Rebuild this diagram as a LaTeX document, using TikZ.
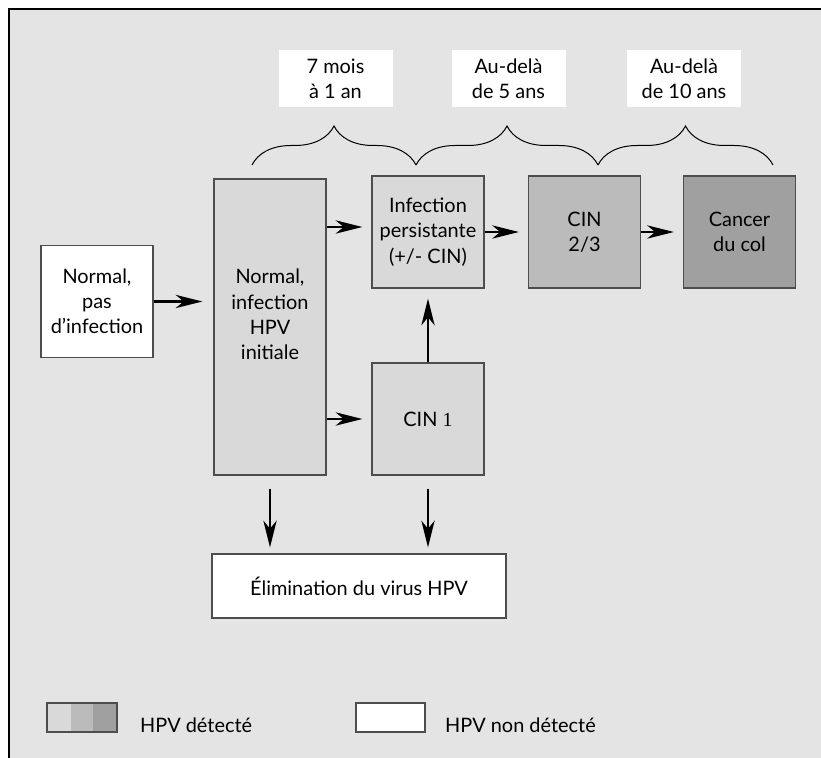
\documentclass[tikz,border=0pt]{standalone}
\usepackage{fontspec}
\setmainfont{Lato}
\newfontfamily\serifnum{Liberation Serif}
\usepackage{tikz}
\usetikzlibrary{positioning, arrows.meta}
\usetikzlibrary{decorations.pathreplacing}
\definecolor{paper}{HTML}{E4E4E4}
\definecolor{hpvlight}{HTML}{D9D9D9}
\definecolor{hpvmid}{HTML}{BBBBBB}
\definecolor{hpvdark}{HTML}{A0A0A0}
\definecolor{edge}{HTML}{4D4D4D}

\begin{document}
\begin{tikzpicture}[x=0.3mm, y=-0.3mm, on grid,
    every node/.style={font=\fontsize{17}{21.5}\selectfont},
    stage/.style={draw=edge, line width=0.4mm, minimum width=33.6mm, minimum height=33.6mm, inner sep=0pt, align=center},
    period/.style={fill=white, minimum width=34.2mm, minimum height=17.1mm, inner sep=0pt, align=center},
    arr/.style={-{Stealth[length=8mm, width=4mm, inset=2.4mm]}, line width=0.7mm, shorten >=2.7mm},
    brc/.style={decorate, decoration={brace, amplitude=11.7mm}, line width=0.3mm}]
    \useasboundingbox (0,0) rectangle (821,758);
    \fill[paper] (8.5,9.5) rectangle (821,758);
    \draw[line width=0.6mm] (8.5,758) -- (8.5,9.5) -- (821,9.5);

    \node[stage, fill=white] (norm) at (97,301.5) {Normal,\\pas\\d’infection};
    \node[stage, fill=hpvlight, minimum height=88.8mm] (ni) at (270,327) {Normal,\\infection\\HPV\\initiale\\\mbox{}};
    \node[stage, fill=hpvlight] (ip) at (428,232) {Infection\\persistante\\(+/- CIN)};
    \node[stage, fill=hpvmid] (cin23) [right=46.95mm of ip] {CIN\\2/3};
    \node[stage, fill=hpvdark] (cancer) [right=46.5mm of cin23] {Cancer\\du col};
    \node[stage, fill=hpvlight] (cin1) [below=56.1mm of ip] {CIN {\serifnum 1}};
    \node[stage, fill=white, minimum width=88.2mm, minimum height=19.2mm] (elim) at (359,586) {Élimination du virus HPV};

    \node[period] (t1) at (335.5,78.5) {7 mois\\à 1 an};
    \node[period] (t2) at (508.5,78.5) {Au-delà\\de 5 ans};
    \node[period] (t3) at (684,78.5) {Au-delà\\de 10 ans};
    \draw[brc] (252,165) -- (416,165);
    \draw[brc] (416,165) -- (598,165);
    \draw[brc] (598,165) -- (773,165);

    \draw[arr, shorten >=3.3mm] (norm.east) -- (norm.east -| ni.west);
    \draw[arr] ([yshift=1.5mm]ip.west -| ni.east) -- ([yshift=1.5mm]ip.west);
    \draw[arr] (ni.east |- cin1.west) -- (cin1.west);
    \draw[arr, shorten >=3mm] (cin1) -- (ip);
    \draw[arr] (ip) -- (cin23);
    \draw[arr] (cin23) -- (cancer);
    \draw[arr, shorten <=3.9mm, shorten >=1.8mm] (ni.south) -- (ni.south |- elim.north);
    \draw[arr, shorten <=3.9mm, shorten >=1.8mm] (cin1) -- (cin1 |- elim.north);

    \fill[hpvlight] (47,703) rectangle (71,732);
    \fill[hpvmid] (71,703) rectangle (93,732);
    \fill[hpvdark] (93,703) rectangle (117,732);
    \node[draw=edge, line width=0.4mm, minimum width=21mm, minimum height=8.7mm, inner sep=0pt] (keyon) at (82,717.5) {};
    \node[anchor=base west, inner sep=0pt] (keyontext) at (140,732) {HPV détecté};
    \node[stage, fill=white, minimum width=20.7mm, minimum height=8.7mm] (keyoff) at (390.5,717.5) {};
    \node[anchor=base west, inner sep=0pt] (keyofftext) at (445,732) {HPV non détecté};
\end{tikzpicture}
\end{document}
